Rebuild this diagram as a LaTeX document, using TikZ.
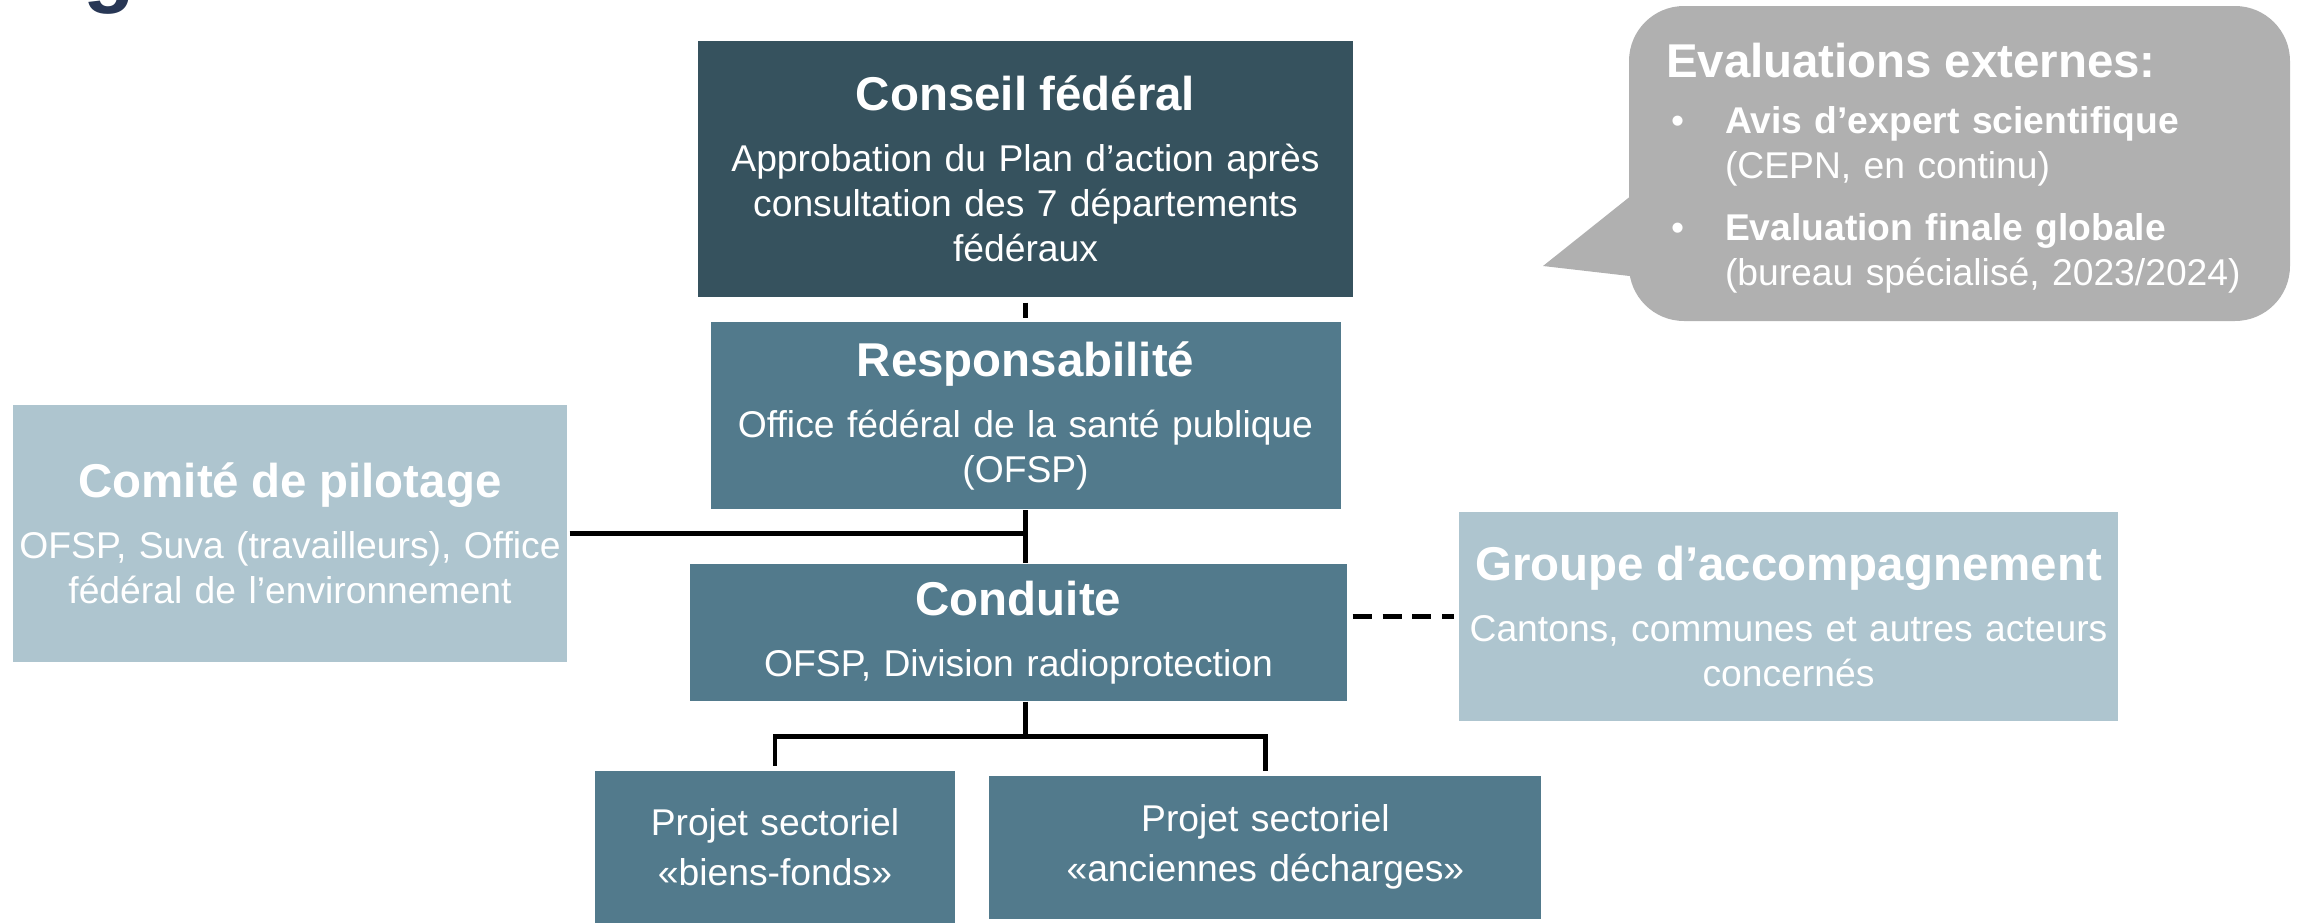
\documentclass[tikz,border=0pt]{standalone}
\usepackage{fontspec}
\setmainfont{Liberation Sans}
\usetikzlibrary{positioning}

\definecolor{darkteal}{RGB}{54,82,94}
\definecolor{midteal}{RGB}{82,122,140}
\definecolor{lightteal}{RGB}{174,197,207}
\definecolor{bubblegray}{RGB}{176,176,176}
\definecolor{titlenavy}{RGB}{40,55,85}

\newcommand{\boxhead}[1]{{\fontsize{13.5}{16}\selectfont\bfseries #1}\\[4.6pt]}

\begin{document}
\begin{tikzpicture}[
    org/.style={rectangle, text=white, inner xsep=0pt, inner ysep=0pt, align=center, font=\fontsize{10.6}{12.8}\selectfont},
    topbox/.style={org, fill=darkteal},
    midbox/.style={org, fill=midteal},
    sidebox/.style={org, fill=lightteal},
    bubble/.style={rectangle, rounded corners=0.55cm, fill=bubblegray, text=white, inner xsep=0.37cm, inner ysep=0pt, align=left, font=\fontsize{10.6}{12.8}\selectfont},
    link/.style={line width=1.2pt},
    dashlink/.style={line width=1.2pt, dash pattern=on 5.4pt off 3.1pt},
]
    \useasboundingbox (0,0) rectangle (23.08,-9.23);

    % Nodes
    \node[anchor=base west, inner sep=0pt, text=titlenavy, font=\fontsize{24}{28}\selectfont\bfseries] (heading) at (0.83,0.04) {g};

    \node[topbox, text width=6.55cm, minimum height=2.56cm] (conseil) at (10.255,-1.69)
        {\boxhead{Conseil fédéral}Approbation du Plan d’action après\\consultation des 7 départements\\fédéraux};
    \node[midbox, text width=6.30cm, minimum height=1.87cm] (resp) [below=0.24cm of conseil]
        {\boxhead{Responsabilité}Office fédéral de la santé publique\\(OFSP)};
    \node[midbox, text width=6.57cm, minimum height=1.37cm] (conduite) [below=0.53cm of resp, xshift=-0.07cm]
        {\boxhead{Conduite}OFSP, Division radioprotection};

    \node[sidebox, text width=5.54cm, minimum height=2.57cm] (comite) at (2.90,-5.335)
        {\boxhead{Comité de pilotage}OFSP, Suva (travailleurs), Office\\fédéral de l’environnement};
    \node[sidebox, text width=6.59cm, minimum height=2.09cm] (groupe) at (17.885,-6.165)
        {\boxhead{Groupe d’accompagnement}Cantons, communes et autres acteurs\\concernés};

    \node[midbox, text width=3.60cm, minimum height=1.52cm, font=\fontsize{10.6}{14.2}\selectfont] (biens) at (7.75,-8.47)
        {Projet sectoriel\\«biens-fonds»};
    \node[midbox, text width=5.52cm, minimum height=1.43cm, font=\fontsize{10.6}{14.2}\selectfont] (decharges) [right=0.33cm of biens]
        {Projet sectoriel\\«anciennes décharges»};

    \node[bubble, text width=5.87cm, minimum height=3.15cm] (evals) at (19.595,-1.635)
        {\rule{0pt}{12.3pt}{\fontsize{13.5}{16}\selectfont\bfseries Evaluations externes:}\\[3.1pt]
         \hspace*{0.05cm}\makebox[0.54cm][l]{•}\textbf{Avis d’expert scientifique}\\
         \hspace*{0.59cm}(CEPN, en continu)\\[4.8pt]
         \hspace*{0.05cm}\makebox[0.54cm][l]{•}\textbf{Evaluation finale globale}\\
         \hspace*{0.59cm}(bureau spécialisé, 2023/2024)};
    \coordinate (tip) at (15.43,-2.66);
    \fill[bubblegray] ([xshift=0.1cm]evals.west |- 0,-1.90) -- (tip) -- ([xshift=0.1cm]evals.west |- 0,-2.77) -- cycle;

    % Lines
    \draw[link, shorten <=0.05cm, shorten >=0.04cm] (conseil.south) -- (resp.north);
    \draw[link] (resp.south) -- (resp.south |- conduite.north);
    \draw[link, shorten <=0.02cm] (comite.east) -- (comite.east -| resp.south);
    \draw[dashlink, shorten <=0.05cm, shorten >=0.04cm] (conduite.east |- groupe.west) -- (groupe.west);

    \draw[link] (resp.south |- conduite.south) -- ++(0,-0.35) coordinate (fork);
    \draw[link] (fork) -| ([yshift=0.04cm]biens.north);
    \draw[link] (fork) -| ([yshift=0.04cm]decharges.north);

\end{tikzpicture}
\end{document}
